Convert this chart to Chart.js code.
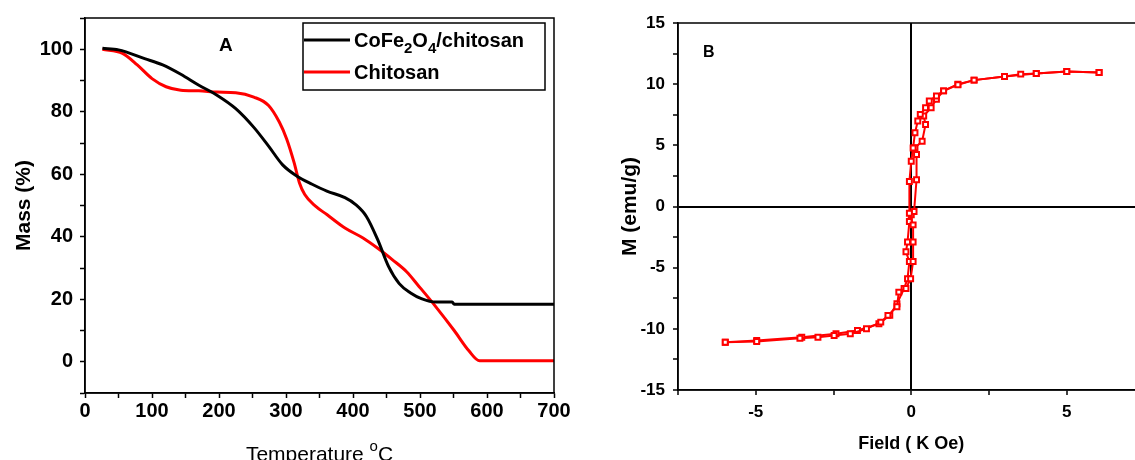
<!DOCTYPE html>
<html>
<head>
<meta charset="utf-8">
<script src="https://cdn.jsdelivr.net/npm/chart.js@4.4.1/dist/chart.umd.min.js"></script>
<style>
  html, body { margin: 0; padding: 0; background: #fff; overflow: hidden; width: 1135px; height: 460px; }
  #tga { position: absolute; left: 0; top: 0; }
  #vsm { position: absolute; left: 570px; top: 0; }
</style>
</head>
<body>
<canvas id="tga" width="570" height="460"></canvas>
<canvas id="vsm" width="590" height="460"></canvas>
<script>
// panel A : TGA
var tempCoFe = [26, 50, 89, 116, 143, 170, 197, 225, 252, 274, 295, 317, 339, 361, 388, 404, 420, 437, 453, 469, 486, 502, 524, 548, 551, 700];
var massCoFe = [100.3, 99.8, 97, 95, 92, 88.5, 85.3, 81, 75, 69, 63, 59.3, 56.8, 54.6, 52.5, 50.3, 46.5, 39, 30.5, 25, 22, 20.2, 19.1, 19.1, 18.4, 18.4];

var tempChito = [26, 56, 78, 100, 121, 143, 170, 197, 225, 252, 274, 290, 301, 312, 320, 328, 344, 361, 388, 415, 437, 459, 480, 497, 524, 551, 573, 589, 700];
var massChito = [100, 98.7, 95, 90.6, 88, 86.9, 86.7, 86.3, 86.1, 84.7, 82, 76.7, 71.3, 63.8, 57.3, 53.5, 49.8, 47.1, 42.8, 39.6, 36.3, 32.6, 28.8, 24.5, 17.5, 10, 3.5, 0.3, 0.3];

var legendNames = ['CoFe2O4/chitosan', 'Chitosan'];

// panel B : hysteresis loop
var fieldDown = [6.04, 5.0, 4.02, 3.52, 3.0, 2.02, 1.5, 1.04, 0.81, 0.58, 0.46, 0.29, 0.21, 0.12, 0.06, 0.0, -0.06, -0.06, 0.06, 0.06, 0.06, -0.02, -0.17, -0.4, -0.46, -0.75, -0.98, -1.44, -1.96, -2.48, -3.0, -3.58, -4.97, -5.98];
var momentDown = [10.96, 11.04, 10.88, 10.82, 10.63, 10.33, 9.95, 9.45, 9.04, 8.63, 8.08, 7.53, 6.99, 6.03, 4.79, 3.7, 2.05, -0.55, -1.5, -2.9, -4.5, -5.9, -6.7, -7.0, -8.2, -8.9, -9.45, -10.0, -10.4, -10.55, -10.68, -10.77, -11.04, -11.1];

var fieldUp = [-5.98, -4.97, -3.52, -2.42, -1.73, -1.04, -0.69, -0.46, -0.23, -0.12, -0.06, -0.17, -0.12, -0.06, 0, 0.09, 0.17, 0.17, 0.12, 0.35, 0.46, 0.4, 0.64, 0.81, 1.04, 1.5, 2.02, 3.0, 4.02, 5.0, 6.04];
var momentUp = [-11.1, -10.95, -10.68, -10.4, -10.14, -9.59, -8.9, -7.95, -6.71, -5.9, -4.5, -3.7, -2.9, -1.23, -0.68, -0.41, 2.19, 4.25, 4.8, 5.34, 6.7, 7.4, 8.08, 8.77, 9.45, 10.0, 10.33, 10.63, 10.88, 11.04, 10.96];

var FONT = "'Liberation Sans', Arial, sans-serif";

function toPoints(xs, ys) {
  return xs.map(function (x, i) { return { x: x, y: ys[i] }; });
}

// draws the box round the plot area
var frame = {
  id: 'frame',
  afterDatasetsDraw: function (chart) {
    var a = chart.chartArea, ctx = chart.ctx;
    ctx.save();
    ctx.strokeStyle = '#000';
    ctx.lineWidth = 1.5;
    ctx.strokeRect(a.left, a.top, a.right - a.left, a.bottom - a.top);
    ctx.restore();
  }
};

// legend box, panel letter and the x title with superscript for panel A
var tgaText = {
  id: 'tgaText',
  afterDraw: function (chart) {
    var ctx = chart.ctx, a = chart.chartArea;
    ctx.save();
    ctx.fillStyle = '#000';
    ctx.textBaseline = 'alphabetic';

    ctx.font = 'bold 19px ' + FONT;
    ctx.fillText('A', 219, 51);

    // legend
    ctx.strokeStyle = '#000';
    ctx.lineWidth = 1.5;
    ctx.strokeRect(303, 23, 242, 67);
    var cols = ['#000', '#ff0000'];
    var rows = [40, 72];
    for (var i = 0; i < 2; i++) {
      ctx.strokeStyle = cols[i];
      ctx.lineWidth = 3;
      ctx.beginPath();
      ctx.moveTo(304, rows[i]);
      ctx.lineTo(350, rows[i]);
      ctx.stroke();
    }
    var x = 354;
    var big = 'bold 20px ' + FONT, small = 'bold 15px ' + FONT;
    var parts = [['CoFe', big, 0], ['2', small, 6], ['O', big, 0], ['4', small, 6], ['/chitosan', big, 0]];
    parts.forEach(function (p) {
      ctx.font = p[1];
      ctx.fillText(p[0], x, rows[0] + 7 + p[2]);
      x += ctx.measureText(p[0]).width;
    });
    ctx.font = big;
    ctx.fillText(legendNames[1], 354, rows[1] + 7);

    // x title: Temperature °C
    var t1 = 'Temperature ', t2 = 'o', t3 = 'C';
    var f1 = '21px ' + FONT, f2 = '15px ' + FONT;
    ctx.font = f1;
    var w1 = ctx.measureText(t1).width, w3 = ctx.measureText(t3).width;
    ctx.font = f2;
    var w2 = ctx.measureText(t2).width;
    var start = (a.left + a.right) / 2 - (w1 + w2 + w3) / 2;
    var base = 461;
    ctx.font = f1;
    ctx.fillText(t1, start, base);
    ctx.font = f2;
    ctx.fillText(t2, start + w1, base - 10);
    ctx.font = f1;
    ctx.fillText(t3, start + w1 + w2, base);
    ctx.restore();
  }
};

var vsmText = {
  id: 'vsmText',
  afterDraw: function (chart) {
    var ctx = chart.ctx;
    ctx.save();
    ctx.fillStyle = '#000';
    ctx.font = 'bold 16px ' + FONT;
    ctx.fillText('B', 133, 57);
    ctx.restore();
  }
};

var tgaConfig = {
  type: 'scatter',
  data: {
    datasets: [{
      label: legendNames[0],
      data: toPoints(tempCoFe, massCoFe),
      showLine: true,
      borderColor: '#000',
      borderWidth: 3,
      pointRadius: 0,
      cubicInterpolationMode: 'monotone'
    }, {
      label: legendNames[1],
      data: toPoints(tempChito, massChito),
      showLine: true,
      borderColor: '#ff0000',
      borderWidth: 3,
      pointRadius: 0,
      cubicInterpolationMode: 'monotone'
    }]
  },
  options: {
    responsive: false,
    animation: false,
    layout: { padding: { left: 0, right: 16, top: 18, bottom: 0 } },
    plugins: { legend: { display: false }, tooltip: { enabled: false } },
    scales: {
      x: {
        min: 0, max: 700,
        ticks: {
          stepSize: 50, padding: 1, color: '#000', maxRotation: 0, autoSkip: false,
          font: { family: FONT, size: 20, weight: 'bold' },
          callback: function (v) { return v % 100 === 0 ? v : ''; }
        },
        grid: { drawOnChartArea: false, tickLength: 5, tickColor: '#000', tickWidth: 1.5 },
        border: { color: '#000', width: 1.5 },
        afterFit: function (s) { s.height = 67; s.paddingLeft = 0; s.paddingRight = 0; }
      },
      y: {
        min: -10, max: 110,
        ticks: {
          stepSize: 10, padding: 7, color: '#000', autoSkip: false,
          font: { family: FONT, size: 20, weight: 'bold' },
          callback: function (v) { return (v % 20 === 0 && v >= 0 && v <= 100) ? v : ''; }
        },
        grid: { drawOnChartArea: false, tickLength: 5, tickColor: '#000', tickWidth: 1.5 },
        border: { color: '#000', width: 1.5 },
        title: { display: true, text: 'Mass (%)', color: '#000', padding: { top: 12 }, font: { family: FONT, size: 21, weight: 'bold' } },
        afterFit: function (s) { s.width = 85; s.paddingTop = 0; s.paddingBottom = 0; }
      }
    }
  },
  plugins: [frame, tgaText]
};

var zeroLine = function (c) { return c.tick && c.tick.value === 0 ? '#000' : 'rgba(0,0,0,0)'; };

var vsmConfig = {
  type: 'scatter',
  data: {
    datasets: [{
      data: toPoints(fieldDown, momentDown),
      showLine: true,
      borderColor: '#ff0000',
      borderWidth: 2,
      pointStyle: 'rect',
      pointRadius: 3.5,
      pointBorderWidth: 2,
      pointBackgroundColor: '#fff',
      pointBorderColor: '#ff0000'
    }, {
      data: toPoints(fieldUp, momentUp),
      showLine: true,
      borderColor: '#ff0000',
      borderWidth: 2,
      pointStyle: 'rect',
      pointRadius: 3.5,
      pointBorderWidth: 2,
      pointBackgroundColor: '#fff',
      pointBorderColor: '#ff0000'
    }]
  },
  options: {
    responsive: false,
    animation: false,
    layout: { padding: { left: 0, right: 15.5, top: 23, bottom: 0 } },
    plugins: { legend: { display: false }, tooltip: { enabled: false } },
    scales: {
      x: {
        min: -7.5, max: 7.5,
        ticks: {
          stepSize: 2.5, padding: 7, color: '#000', maxRotation: 0, autoSkip: false,
          font: { family: FONT, size: 17, weight: 'bold' },
          callback: function (v) { return v % 5 === 0 ? v : ''; }
        },
        grid: { color: zeroLine, lineWidth: 2, tickLength: 5, tickColor: '#000', tickWidth: 1.5 },
        border: { color: '#000', width: 1.5 },
        title: { display: true, text: 'Field ( K Oe)', color: '#000', padding: { bottom: 5 }, font: { family: FONT, size: 18, weight: 'bold' } },
        afterFit: function (s) { s.height = 70; s.paddingLeft = 0; s.paddingRight = 0; }
      },
      y: {
        min: -15, max: 15,
        ticks: {
          stepSize: 2.5, padding: 8, color: '#000', autoSkip: false,
          font: { family: FONT, size: 17, weight: 'bold' },
          callback: function (v) { return v % 5 === 0 ? v : ''; }
        },
        grid: { color: zeroLine, lineWidth: 2, tickLength: 5, tickColor: '#000', tickWidth: 1.5 },
        border: { color: '#000', width: 1.5 },
        title: { display: true, text: 'M (emu/g)', color: '#000', padding: { top: 48 }, font: { family: FONT, size: 21, weight: 'bold' } },
        afterFit: function (s) { s.width = 108; s.paddingTop = 0; s.paddingBottom = 0; }
      }
    }
  },
  plugins: [frame, vsmText]
};

var tgaChart = new Chart(document.getElementById('tga'), tgaConfig);
var vsmChart = new Chart(document.getElementById('vsm'), vsmConfig);
</script>
</body>
</html>
